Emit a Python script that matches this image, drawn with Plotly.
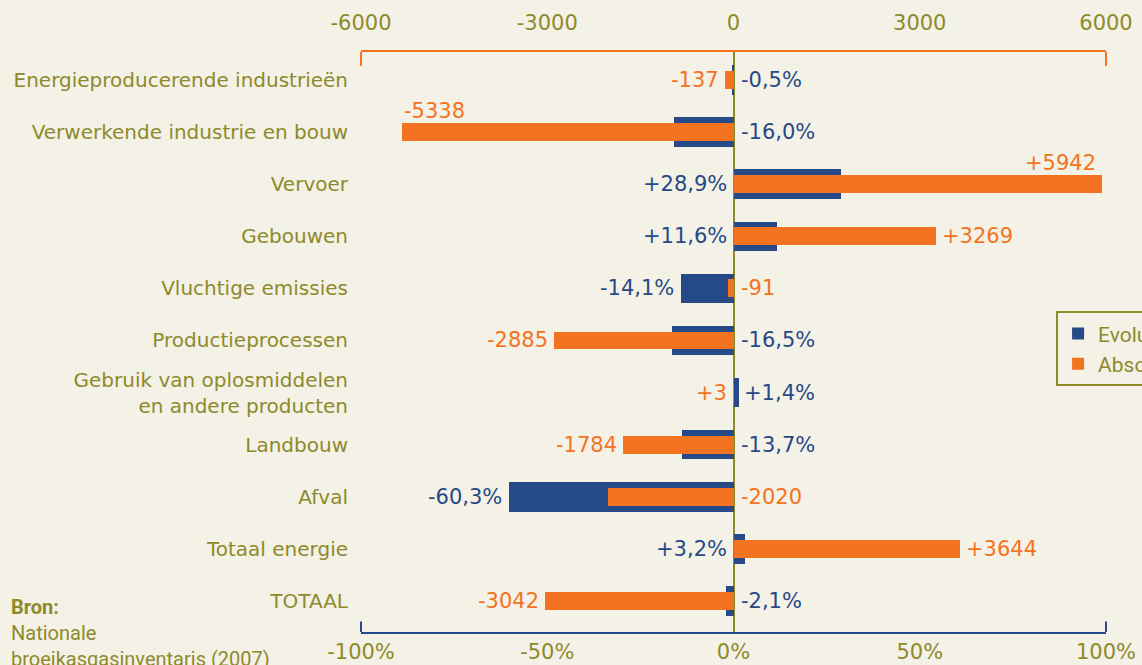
import plotly.graph_objects as go

# data
categories = ["Energieproducerende industrieën", "Verwerkende industrie en bouw", "Vervoer",
              "Gebouwen", "Vluchtige emissies", "Productieprocessen",
              "Gebruik van oplosmiddelen<br>en andere producten", "Landbouw", "Afval",
              "Totaal energie", "TOTAAL"]
evolutie = [-0.5, -16.0, 28.9, 11.6, -14.1, -16.5, 1.4, -13.7, -60.3, 3.2, -2.1]
absoluut = [-137, -5338, 5942, 3269, -91, -2885, 3, -1784, -2020, 3644, -3042]
pct_ticks = [-100, -50, 0, 50, 100]
abs_ticks = [-6000, -3000, 0, 3000, 6000]

BG = "#f4f1e6"
OLIVE = "#8e8a2c"
BLUE = "#264987"
ORANGE = "#f37321"
FONT = "DejaVu Sans"

fig = go.Figure()

fig.add_trace(go.Bar(
    y=categories, x=evolutie, orientation="h", width=0.565,
    marker=dict(color=BLUE, line=dict(width=0)),
    name="Evolutie 1990-2005 (%)", legendgroup="a", xaxis="x", yaxis="y",
))
fig.add_trace(go.Bar(
    y=categories, x=absoluut, orientation="h", width=0.345,
    marker=dict(color=ORANGE, line=dict(width=0)),
    name="Absolute verandering (kton)", legendgroup="b", xaxis="x2", yaxis="y",
))

# value labels, placed like the reference: the longest bar gets its label at
# its end, the other label sits on the far side of the zero line
annotations = []
for cat, p, a in zip(categories, evolutie, absoluut):
    p_ext = abs(p) / 100
    a_ext = abs(a) / 6000
    p_txt = ("%+.1f%%" % p).replace(".", ",")
    a_txt = "%+d" % a
    if a_ext >= p_ext:
        if a_ext > 0.85:
            # no room: label above the end of the bar
            annotations.append(dict(x=a, y=cat, xref="x2", yref="y", text=a_txt,
                                    xanchor="left" if a < 0 else "right", yshift=21,
                                    xshift=0 if a < 0 else -4,
                                    font=dict(color=ORANGE)))
        else:
            annotations.append(dict(x=a, y=cat, xref="x2", yref="y", text=a_txt,
                                    xanchor="right" if a < 0 else "left",
                                    xshift=-4 if a < 0 else 4, font=dict(color=ORANGE)))
        annotations.append(dict(x=0, y=cat, xref="x", yref="y", text=p_txt,
                                xanchor="left" if p < 0 else "right",
                                xshift=5 if p < 0 else -5, font=dict(color=BLUE)))
    else:
        annotations.append(dict(x=p, y=cat, xref="x", yref="y", text=p_txt,
                                xanchor="right" if p < 0 else "left",
                                xshift=-5 if p < 0 else 3, font=dict(color=BLUE)))
        annotations.append(dict(x=0, y=cat, xref="x2", yref="y", text=a_txt,
                                xanchor="left" if a < 0 else "right",
                                xshift=5 if a < 0 else -5, font=dict(color=ORANGE)))
for an in annotations:
    an["showarrow"] = False
    an["font"]["size"] = 21
    an["font"]["family"] = FONT

annotations.append(dict(
    x=-0.472, y=0.068, xref="paper", yref="paper", xanchor="left", yanchor="top",
    align="left", showarrow=False,
    text="<b>Bron:</b><br>Nationale<br>broeikasgasinventaris (2007)",
    font=dict(family="Roboto", size=20, color=OLIVE),
))

shapes = [
    # end ticks of the top (absolute) axis
    dict(type="line", xref="paper", yref="paper", x0=0, x1=0, y0=1, y1=0.976,
         line=dict(color=ORANGE, width=2)),
    dict(type="line", xref="paper", yref="paper", x0=1, x1=1, y0=1, y1=0.976,
         line=dict(color=ORANGE, width=2)),
    # end ticks of the bottom (percentage) axis
    dict(type="line", xref="paper", yref="paper", x0=0, x1=0, y0=0, y1=0.018,
         line=dict(color=BLUE, width=2)),
    dict(type="line", xref="paper", yref="paper", x0=1, x1=1, y0=0, y1=0.018,
         line=dict(color=BLUE, width=2)),
]

fig.update_layout(
    width=1142, height=665,
    margin=dict(l=361, r=36, t=52, b=33, autoexpand=False),
    paper_bgcolor=BG, plot_bgcolor=BG,
    barmode="overlay", bargap=0,
    font=dict(family=FONT, color=OLIVE, size=20),
    showlegend=True,
    legend=dict(x=0.933, y=0.553, xanchor="left", yanchor="top",
                bgcolor="rgba(0,0,0,0)", bordercolor=OLIVE, borderwidth=2,
                font=dict(family="Roboto", size=21, color=OLIVE),
                tracegroupgap=8, traceorder="normal"),
    xaxis=dict(range=[-100, 100], tickvals=pct_ticks,
               ticktext=["%d%%" % t for t in pct_ticks], side="bottom",
               showgrid=False, showline=True, linecolor=BLUE, linewidth=2,
               zeroline=True, zerolinecolor=OLIVE, zerolinewidth=2,
               ticks="", tickfont=dict(size=21, color=OLIVE), fixedrange=True),
    xaxis2=dict(range=[-6000, 6000], tickvals=abs_ticks,
                ticktext=[str(t) for t in abs_ticks], side="top", overlaying="x",
                showgrid=False, showline=True, linecolor=ORANGE, linewidth=2,
                zeroline=False, ticks="", ticklabelstandoff=12,
                tickfont=dict(size=21, color=OLIVE)),
    yaxis=dict(range=[10.595, -0.537], showgrid=False, showline=False, zeroline=False,
               ticks="", ticklabelstandoff=12, tickfont=dict(size=20, color=OLIVE)),
    annotations=annotations,
    shapes=shapes,
)

# drop the page's default body margin so the figure fills the window
fig.write_html("out.html", config={"displayModeBar": False},
               post_script="document.body.style.margin='0';")
